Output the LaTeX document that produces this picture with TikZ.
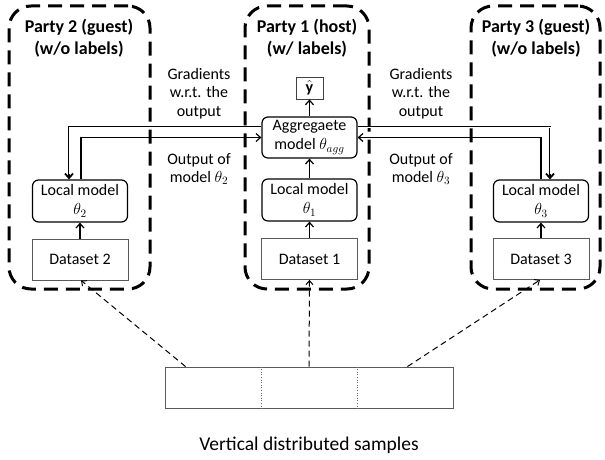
\RequirePackage{fix-cm}
\documentclass[tikz,border=0pt]{standalone}
\usepackage{fontspec}
\setmainfont{Carlito}
\usetikzlibrary{arrows.meta,calc}

\begin{document}
\begin{tikzpicture}[x=1pt,y=-1pt,
  party/.style={draw, line width=3pt, dash pattern=on 14pt off 8pt,
    rounded corners=22pt, inner sep=0pt},
  title/.style={font=\fontsize{18}{22}\selectfont\bfseries, align=center},
  lbl/.style={font=\fontsize{16}{18.5}\selectfont, align=center},
  model/.style={draw, line width=1.2pt, rounded corners=6pt, minimum width=95pt,
    minimum height=42pt, align=center, inner sep=0pt,
    font=\fontsize{16}{19}\selectfont},
  data/.style={draw=black!65, line width=0.8pt, minimum width=96pt,
    minimum height=41pt, inner sep=0pt, font=\fontsize{16}{19}\selectfont},
  tip/.style={-{Straight Barb[length=4.5pt,width=8pt]}},
  flow/.style={line width=1.2pt, tip},
  % hollow core of the gradient lines
  gradcore/.style={white, line width=0.6pt, shorten >=5pt},
  feed/.style={line width=1pt, dash pattern=on 6pt off 4pt,
    -{Straight Barb[length=4pt,width=7pt]}}
]
\useasboundingbox (0,0) rectangle (605,460);

% party containers
\node[party, minimum width=141pt, minimum height=283pt] (p2) at (79.5,147.5) {};
\node[party, minimum width=124pt, minimum height=283pt] (p1) at (307,147.5) {};
\node[party, minimum width=129pt, minimum height=283pt] (p3) at (535.5,147.5) {};

\node[title] (t2) at (79,38) {Party 2 (guest)\\(w/o labels)};
\node[title] (t1) at (307,38) {Party 1 (host)\\(w/ labels)};
\node[title] (t3) at (536,38) {Party 3 (guest)\\(w/o labels)};

% host side
\node[draw=black!75, line width=0.8pt, minimum width=27pt, minimum height=22pt,
  inner sep=0pt, font=\fontsize{16}{19}\selectfont] (yhat) at (309.5,88) {$\hat{\mathbf{y}}$};
\node[model, minimum height=41pt] (agg) at (309.5,137.5) {Aggregaete\\model $\theta_{agg}$};
\node[model] (loc1) at (309.5,200) {Local model\\$\theta_1$};
\node[data] (ds1) at (309.5,259) {Dataset 1};

% guests
\node[model] (loc2) at (80,201) {Local model\\$\theta_2$};
\node[data] (ds2) at (80,259.5) {Dataset 2};
\node[model] (loc3) at (541,201) {Local model\\$\theta_3$};
\node[data] (ds3) at (541,259) {Dataset 3};

% vertical flows
\draw[flow] (ds1) -- (loc1);
\draw[flow] (loc1) -- (agg);
\draw[flow] (agg) -- (yhat);
\draw[flow] (ds2) -- (loc2);
\draw[flow] (ds3) -- (loc3);

% gradients back to the guests (hollow lines)
\draw[flow, line width=1.8pt] ([yshift=10.5pt]agg.west) -| ([xshift=-11pt]loc2.north);
\draw[gradcore] ([yshift=10.5pt]agg.west) -| ([xshift=-11pt]loc2.north);
\draw[flow, line width=1.8pt] ([yshift=10.5pt]agg.east) -| ([xshift=9pt]loc3.north);
\draw[gradcore] ([yshift=10.5pt]agg.east) -| ([xshift=9pt]loc3.north);

% guest outputs to the aggregate model
\draw[flow] ([xshift=1pt]loc2.north) |- (agg.west);
\draw[flow] (loc3.north) |- (agg.east);

\node[lbl] (gl) at (199,93.5) {Gradients\\w.r.t. the\\output};
\node[lbl] (ol) at (199,169) {Output of\\model $\theta_2$};
\node[lbl] (gr) at (421,93.5) {Gradients\\w.r.t. the\\output};
\node[lbl] (or) at (421,169) {Output of\\model $\theta_3$};

% sample table split among parties
\node[draw=black!65, line width=0.8pt, minimum width=288pt, minimum height=41pt,
  inner sep=0pt] (bar) at (309,387.5) {};
\draw[black!55, dotted, line width=0.6pt]
  ($(bar.north west)!1/3!(bar.north east)$) -- ($(bar.south west)!1/3!(bar.south east)$);
\draw[black!55, dotted, line width=0.6pt]
  ($(bar.north west)!2/3!(bar.north east)$) -- ($(bar.south west)!2/3!(bar.south east)$);

\draw[feed] ([xshift=21pt]bar.north west) -- ([xshift=1pt]ds2.south);
\draw[feed] (bar.north) -- (ds1.south);
\draw[feed] ([xshift=-46pt]bar.north east) -- ([xshift=-1pt]ds3.south);

\node[font=\fontsize{19.5}{22}\selectfont] (cap) at (309,445) {Vertical distributed samples};
\end{tikzpicture}
\end{document}
